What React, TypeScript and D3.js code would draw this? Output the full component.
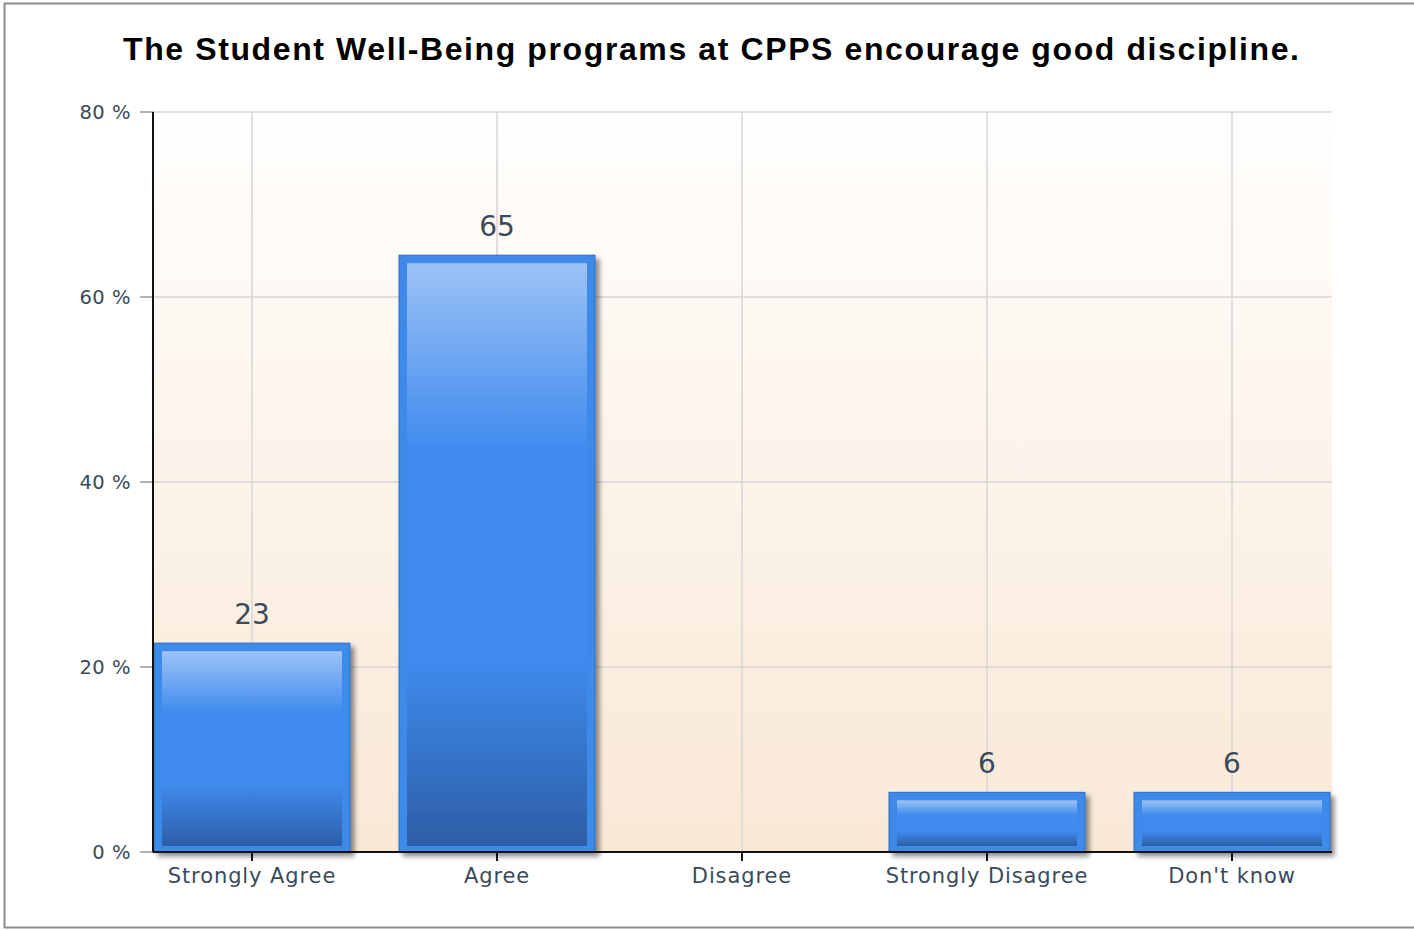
import React from "react";
import * as d3 from "d3";

const categories = ["Strongly Agree", "Agree", "Disagree", "Strongly Disagree", "Don't know"];
const values = [22.58, 64.52, 0, 6.45, 6.45];
const valueLabels = ["23", "65", "", "6", "6"];
const yTicks = [0, 20, 40, 60, 80];
const title = "The Student Well-Being programs at CPPS encourage good discipline.";

const W = 1414, H = 930;
const plotL = 153, plotR = 1332, plotT = 112, plotB = 852;

export default function App() {
  const y = d3.scaleLinear().domain([0, 80]).range([plotB, plotT]);
  const x = d3.scaleBand<string>().domain(categories).range([129.5, 1354.5]).paddingInner(0.2).paddingOuter(0.1);
  const step = x.step();
  const bw = step * 0.8;
  const cx = (c: string) => (x(c) as number) + x.bandwidth() / 2;
  const textCol = "#3a4a5a";
  return (
    <svg width={W} height={H} style={{ position: "absolute", left: 0, top: 0 }}>
      <defs>
        <linearGradient id="bg" x1="0" y1="0" x2="0" y2="1">
          <stop offset="0" stopColor="#fffefd" />
          <stop offset="1" stopColor="#f9e8d6" />
        </linearGradient>
        <linearGradient id="barg" x1="0" y1="0" x2="0" y2="1">
          <stop offset="0" stopColor="#9cc2f6" />
          <stop offset="0.32" stopColor="#3f8bee" />
          <stop offset="0.68" stopColor="#3f8bee" />
          <stop offset="1" stopColor="#2c5ea6" />
        </linearGradient>
        <filter id="sh" x="-10%" y="-10%" width="130%" height="130%">
          <feGaussianBlur in="SourceAlpha" stdDeviation="2.5" />
          <feOffset dx="4" dy="4" result="b" />
          <feComponentTransfer><feFuncA type="linear" slope="0.45" /></feComponentTransfer>
          <feMerge><feMergeNode /><feMergeNode in="SourceGraphic" /></feMerge>
        </filter>
      </defs>
      <rect x={0} y={0} width={W} height={H} fill="#fff" />
      <rect x={4.5} y={3.5} width={W + 10} height={924} fill="none" stroke="#8c8c8c" strokeWidth={2} />
      <text x={711} y={60} textAnchor="middle" fontFamily="'Liberation Sans', Arial, sans-serif" fontWeight="bold" fontSize={32} fill="#000" textLength={1176} lengthAdjust="spacing">{title}</text>
      <rect x={plotL} y={plotT} width={plotR - plotL} height={plotB - plotT} fill="url(#bg)" />
      {yTicks.map(t => (
        <g key={t}>
          <line x1={plotL} x2={plotR} y1={y(t)} y2={y(t)} stroke="#d6d6d6" strokeWidth={1.5} />
          <line x1={140} x2={plotL} y1={y(t)} y2={y(t)} stroke="#999" strokeWidth={1.5} />
          <text x={131} y={y(t) + 7} textAnchor="end" fontFamily="'DejaVu Sans', Verdana, sans-serif" fontSize={19.5} fill={textCol} letterSpacing={0.5}>{t} %</text>
        </g>
      ))}
      {categories.map(c => (
        <line key={c} x1={cx(c)} x2={cx(c)} y1={plotT} y2={plotB} stroke="#d6d6d6" strokeWidth={1.5} />
      ))}
      {categories.map((c, i) => {
        const v = values[i];
        if (v <= 0) return null;
        const x0 = cx(c) - bw / 2;
        const y0 = y(v);
        const h = plotB - y0;
        return (
          <g key={c} filter="url(#sh)">
            <rect x={x0} y={y0} width={bw} height={h} fill="#3d8aea" stroke="#2d6cc0" strokeWidth={1} />
            <rect x={x0 + 8} y={y0 + 8} width={bw - 16} height={Math.max(0, h - 14)} fill="url(#barg)" />
          </g>
        );
      })}
      <line x1={plotL} x2={plotL} y1={plotT} y2={plotB} stroke="#111" strokeWidth={2} />
      <line x1={plotL} x2={plotR} y1={plotB} y2={plotB} stroke="#111" strokeWidth={2} />
      {categories.map((c, i) => (
        <g key={c}>
          <line x1={cx(c)} x2={cx(c)} y1={plotB} y2={plotB + 9} stroke="#111" strokeWidth={2} />
          <text x={cx(c)} y={plotB + 31} textAnchor="middle" fontFamily="'DejaVu Sans', Verdana, sans-serif" fontSize={21} fill={textCol} letterSpacing={0.9}>{c}</text>
          {valueLabels[i] && (
            <text x={cx(c)} y={y(values[i]) - 19} textAnchor="middle" fontFamily="'DejaVu Sans', Verdana, sans-serif" fontSize={28} fill={textCol}>{valueLabels[i]}</text>
          )}
        </g>
      ))}
    </svg>
  );
}
